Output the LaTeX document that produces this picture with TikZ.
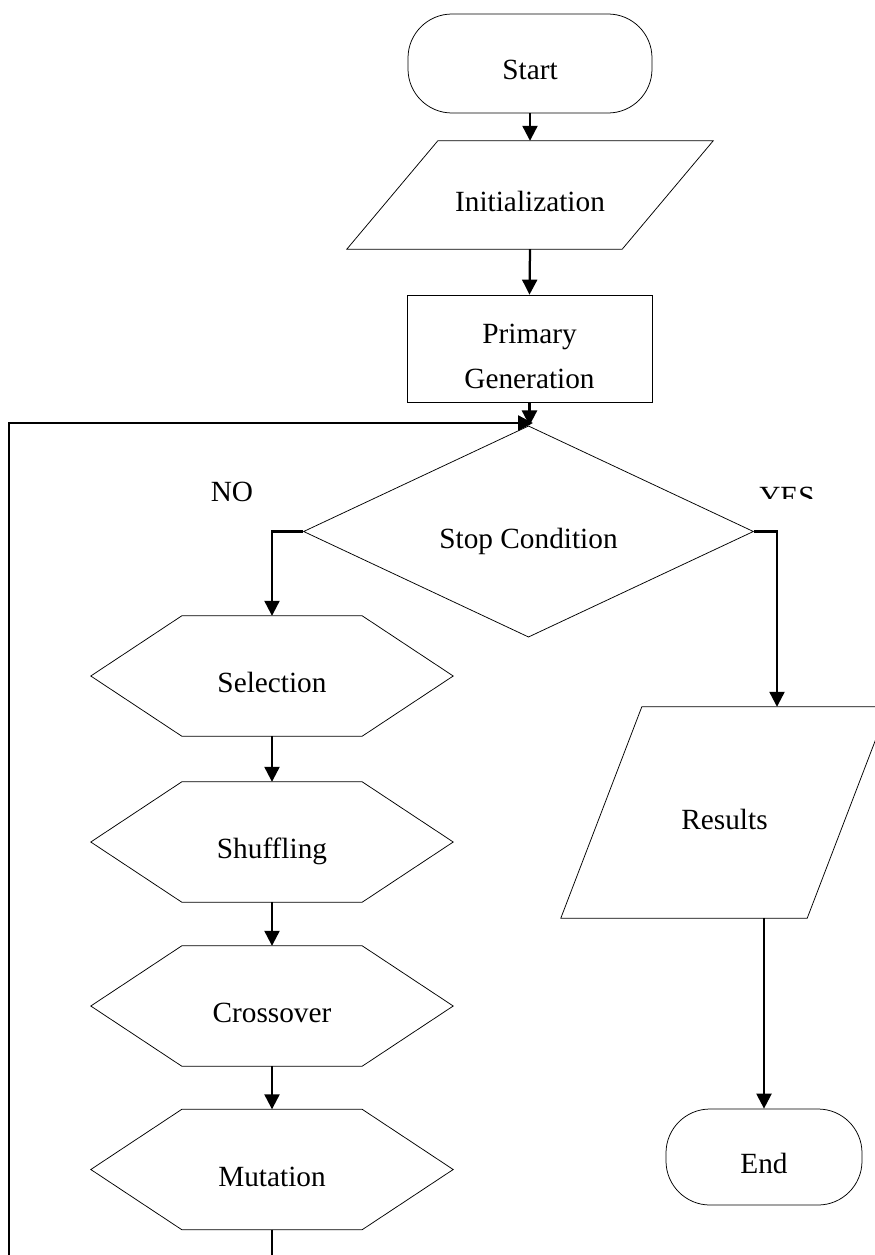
\documentclass[tikz,border=0pt]{standalone}
\usepackage{fontspec}
\setmainfont{Liberation Serif}
\usetikzlibrary{shapes.geometric,arrows.meta}

\tikzset{
  flowtext/.style={font=\fontsize{29.3}{45}\selectfont, align=center, inner sep=0pt, text height=33pt, text depth=0pt},
  termbox/.style={flowtext, draw, line width=0.75pt, rounded corners=44pt},
  procbox/.style={flowtext, draw, line width=0.75pt},
  hexbox/.style={flowtext, minimum width=362pt, minimum height=120pt},
  iobox/.style={flowtext},
  testbox/.style={flowtext, draw, diamond, line width=0.75pt, minimum width=450pt, minimum height=169pt},
  edgetext/.style={font=\fontsize{29.3}{45}\selectfont, inner sep=0pt},
  flowline/.style={line width=2.25pt},
  flowarrow/.style={flowline, -{Triangle[width=15pt,length=15pt]}},
}

\begin{document}
\begin{tikzpicture}[x=1pt,y=1pt,yscale=-1,xscale=1]
  \path[use as bounding box, clip] (0,0) rectangle (875,1255);

  % main column
  \node[termbox, minimum width=244pt, minimum height=99pt] (start) at (530,63.5) {Start};
  \node[iobox, minimum width=366pt, minimum height=108pt] (init) at (530,195) {Initialization};
  \node[procbox, minimum width=245pt, minimum height=107pt, text height=80pt] (primary) at (529.5,348.5) {Primary\\Generation};
  \node[testbox] (stop) at (528.5,531.5) {Stop Condition};

  % NO branch: operators
  \node[hexbox] (sel) at (272,676) {Selection};
  \node[hexbox] (shuf) at (272,842) {Shuffling};
  \node[hexbox] (cross) at (272,1006) {Crossover};
  \node[hexbox] (mut) at (272,1169.5) {Mutation};

  % YES branch
  \node[iobox, minimum width=327pt, minimum height=211pt] (results) at (724.5,812.5) {Results};
  \node[termbox, minimum width=196pt, minimum height=96pt] (end) at (764,1157) {End};

  % outlines of the parallelograms and hexagons
  \draw[line width=0.75pt] (init.south west) -- ([xshift=91pt]init.north west) -- (init.north east) -- ([xshift=-91pt]init.south east) -- cycle;
  \draw[line width=0.75pt] (results.south west) -- ([xshift=81pt]results.north west) -- (results.north east) -- ([xshift=-81pt]results.south east) -- cycle;
  \foreach \n in {sel,shuf,cross,mut}
    \draw[line width=0.75pt] (\n.west) -- ([xshift=91pt]\n.north west) -- ([xshift=-91pt]\n.north east) -- (\n.east) -- ([xshift=-91pt]\n.south east) -- ([xshift=91pt]\n.south west) -- cycle;

  % labels
  \node[edgetext] (nolabel) at (232,492) {NO};
  \begin{scope}
    \clip (740,470) rectangle (840,498);
    \node[edgetext] (yeslabel) at (787,496.5) {YES};
  \end{scope}

  % connectors
  \coordinate (loopin) at (533,423);
  \draw[flowarrow] (start.south) -- (init.north);
  \draw[flowarrow] (init.south) -- (primary.north);
  \draw[flowarrow] (primary.south) -- (primary.south |- stop.north);
  \draw[flowarrow] (stop.west) -| (sel.north);
  \draw[flowarrow] (sel.south) -- (shuf.north);
  \draw[flowarrow] (shuf.south) -- (cross.north);
  \draw[flowarrow] (cross.south) -- (mut.north);
  \draw[flowarrow] (mut.south) -- ++(0,60) -| (9,423) -- (loopin);
  \draw[flowarrow] (stop.east) -| ([xshift=52.5pt]results.north);
  \draw[flowarrow] (end.north |- results.south) -- (end.north);
\end{tikzpicture}
\end{document}
